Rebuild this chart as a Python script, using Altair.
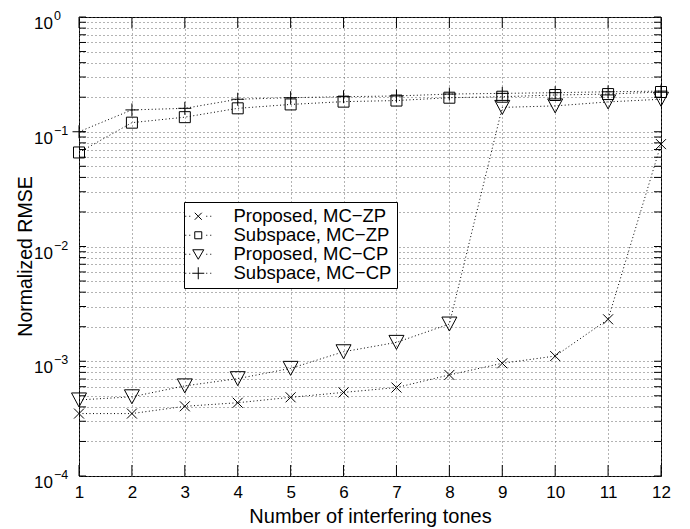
import altair as alt
import pandas as pd

# ---- data ----
n_tones = list(range(1, 13))
series_names = ["Proposed, MC−ZP", "Subspace, MC−ZP", "Proposed, MC−CP", "Subspace, MC−CP"]
proposed_zp = [3.5e-4, 3.5e-4, 4.05e-4, 4.35e-4, 4.85e-4, 5.35e-4, 5.9e-4, 7.6e-4, 9.6e-4, 1.11e-3, 2.32e-3, 0.078]
subspace_zp = [0.066, 0.12, 0.134, 0.16, 0.173, 0.183, 0.187, 0.198, 0.202, 0.209, 0.213, 0.222]
proposed_cp = [4.6e-4, 4.9e-4, 6.1e-4, 7.05e-4, 8.67e-4, 1.21e-3, 1.46e-3, 2.11e-3, 0.163, 0.168, 0.182, 0.192]
subspace_cp = [0.1, 0.155, 0.16, 0.192, 0.198, 0.202, 0.205, 0.213, 0.216, 0.219, 0.223, 0.226]

y_major = [1, 0.1, 0.01, 0.001, 0.0001]
y_exponents = ["0", "−1", "−2", "−3", "−4"]
y_minor_mult = [2, 3, 4, 5, 6, 7, 8, 9]
y_decades = [0.0001, 0.001, 0.01, 0.1]

# ---- build tables ----
rows = []
for name, vals in zip(series_names, [proposed_zp, subspace_zp, proposed_cp, subspace_cp]):
    for n, v in zip(n_tones, vals):
        rows.append({"n": n, "v": v, "series": name})
df = pd.DataFrame(rows)

y_ticks = list(y_major) + [m * d for d in y_decades for m in y_minor_mult]
ytick_df = pd.DataFrame({"v": y_ticks})
xtick_df = pd.DataFrame({"n": n_tones})
ylab_df = pd.DataFrame({"v": y_major, "e": y_exponents})

W, H = 582, 459
FONT = "Liberation Sans"

x_scale = alt.Scale(domain=[1, 12], nice=False, zero=False)
y_scale = alt.Scale(type="log", domain=[1e-4, 1], nice=False)

x_axis = alt.Axis(
    values=n_tones, grid=True, gridDash=[1, 3], gridColor="#666", gridWidth=1,
    ticks=False, tickSize=0, domain=False, labelFlush=False,
    labelFont=FONT, labelFontSize=17, labelColor="black", labelPadding=8,
    title="Number of interfering tones", titleFont=FONT, titleFontSize=20,
    titleFontWeight="normal", titleColor="black", titleBaseline="alphabetic",
    titleY=46,
)
y_axis = alt.Axis(
    values=y_ticks, grid=True, gridDash=[1, 3], gridColor="#666", gridWidth=1,
    ticks=False, tickSize=0, domain=False, labels=False,
    title="Normalized RMSE", titleFont=FONT, titleFontSize=19.5,
    titleFontWeight="normal", titleColor="black", titleAngle=-90,
    titleX=-54, titleY=239, titleAlign="center", titleBaseline="middle",
)


def X():
    return alt.X("n:Q", scale=x_scale, axis=x_axis)


def Y():
    return alt.Y("v:Q", scale=y_scale, axis=y_axis)


marker_paths = [
    "M-5,-5L5,5M-5,5L5,-5",
    "M-5.5,-5.5H5.5V5.5H-5.5Z",
    "M-7.5,-7L7.5,-7L0,7Z",
    "M-6.5,0H6.5M0,-6.5V6.5",
]
dots = "M-13,0h1M-9,0h1M8,0h1M12,0h1"
legend_paths = [
    dots + "M-3.5,-3.5L3.5,3.5M-3.5,3.5L3.5,-3.5",
    dots + "M-3.5,-3.5H3.5V3.5H-3.5Z",
    dots + "M-5.5,-4.5L5.5,-4.5L0,5Z",
    dots + "M-6,0H6M0,-6V6",
]

lines = alt.Chart(df).mark_line(
    color="black", strokeWidth=1, strokeDash=[1, 2.5]
).encode(x=X(), y=Y(), detail="series:N")

points = alt.Chart(df).mark_point(
    filled=False, size=4, strokeWidth=1, color="black", opacity=1
).encode(
    x=X(), y=Y(),
    shape=alt.Shape("series:N", scale=alt.Scale(domain=series_names, range=marker_paths), legend=None),
)

legend_layer = alt.Chart(df).transform_filter("datum.n < 0").mark_point(
    filled=False, size=4, strokeWidth=1, color="black", opacity=1
).encode(
    x=X(), y=Y(),
    shape=alt.Shape(
        "series:N",
        scale=alt.Scale(domain=series_names, range=legend_paths),
        legend=alt.Legend(
            title=None, orient="none", legendX=105, legendY=185,
            strokeColor="black", fillColor="white", padding=5,
            labelFont=FONT, labelFontSize=18.5, labelColor="black", labelLimit=400,
            symbolSize=4, symbolStrokeWidth=1, symbolStrokeColor="black",
            symbolFillColor="transparent", symbolOpacity=1,
            labelOffset=26, rowPadding=0,
        ),
    ),
)

yt_left = alt.Chart(ytick_df).mark_rule(color="black", strokeWidth=1).encode(
    y=Y(), x=alt.value(0), x2=alt.value(7)
)
yt_right = alt.Chart(ytick_df).mark_rule(color="black", strokeWidth=1).encode(
    y=Y(), x=alt.value(W - 7), x2=alt.value(W)
)
xt_bottom = alt.Chart(xtick_df).mark_rule(color="black", strokeWidth=1).encode(
    x=X(), y=alt.value(H - 11), y2=alt.value(H)
)
xt_top = alt.Chart(xtick_df).mark_rule(color="black", strokeWidth=1).encode(
    x=X(), y=alt.value(0), y2=alt.value(11)
)

ylab_base = alt.Chart(ylab_df).mark_text(
    font=FONT, fontSize=17, color="black", align="right", baseline="middle", dy=7
).encode(y=Y(), x=alt.value(-26), text=alt.value("10"))
ylab_exp = alt.Chart(ylab_df).mark_text(
    font=FONT, fontSize=12.5, color="black", align="left", baseline="middle", dy=-1
).encode(y=Y(), x=alt.value(-25), text="e:N")

chart = alt.layer(
    lines, points, legend_layer, yt_left, yt_right, xt_bottom, xt_top, ylab_base, ylab_exp
).resolve_scale(shape="independent").resolve_legend(shape="independent").properties(
    width=W, height=H,
    autosize=alt.AutoSizeParams(type="none"),
    padding={"left": 71, "top": 9, "right": 20, "bottom": 53},
    background="white",
).configure_view(stroke="black", strokeWidth=1)

chart.save("out.html", embed_options={"renderer": "svg", "actions": False})
